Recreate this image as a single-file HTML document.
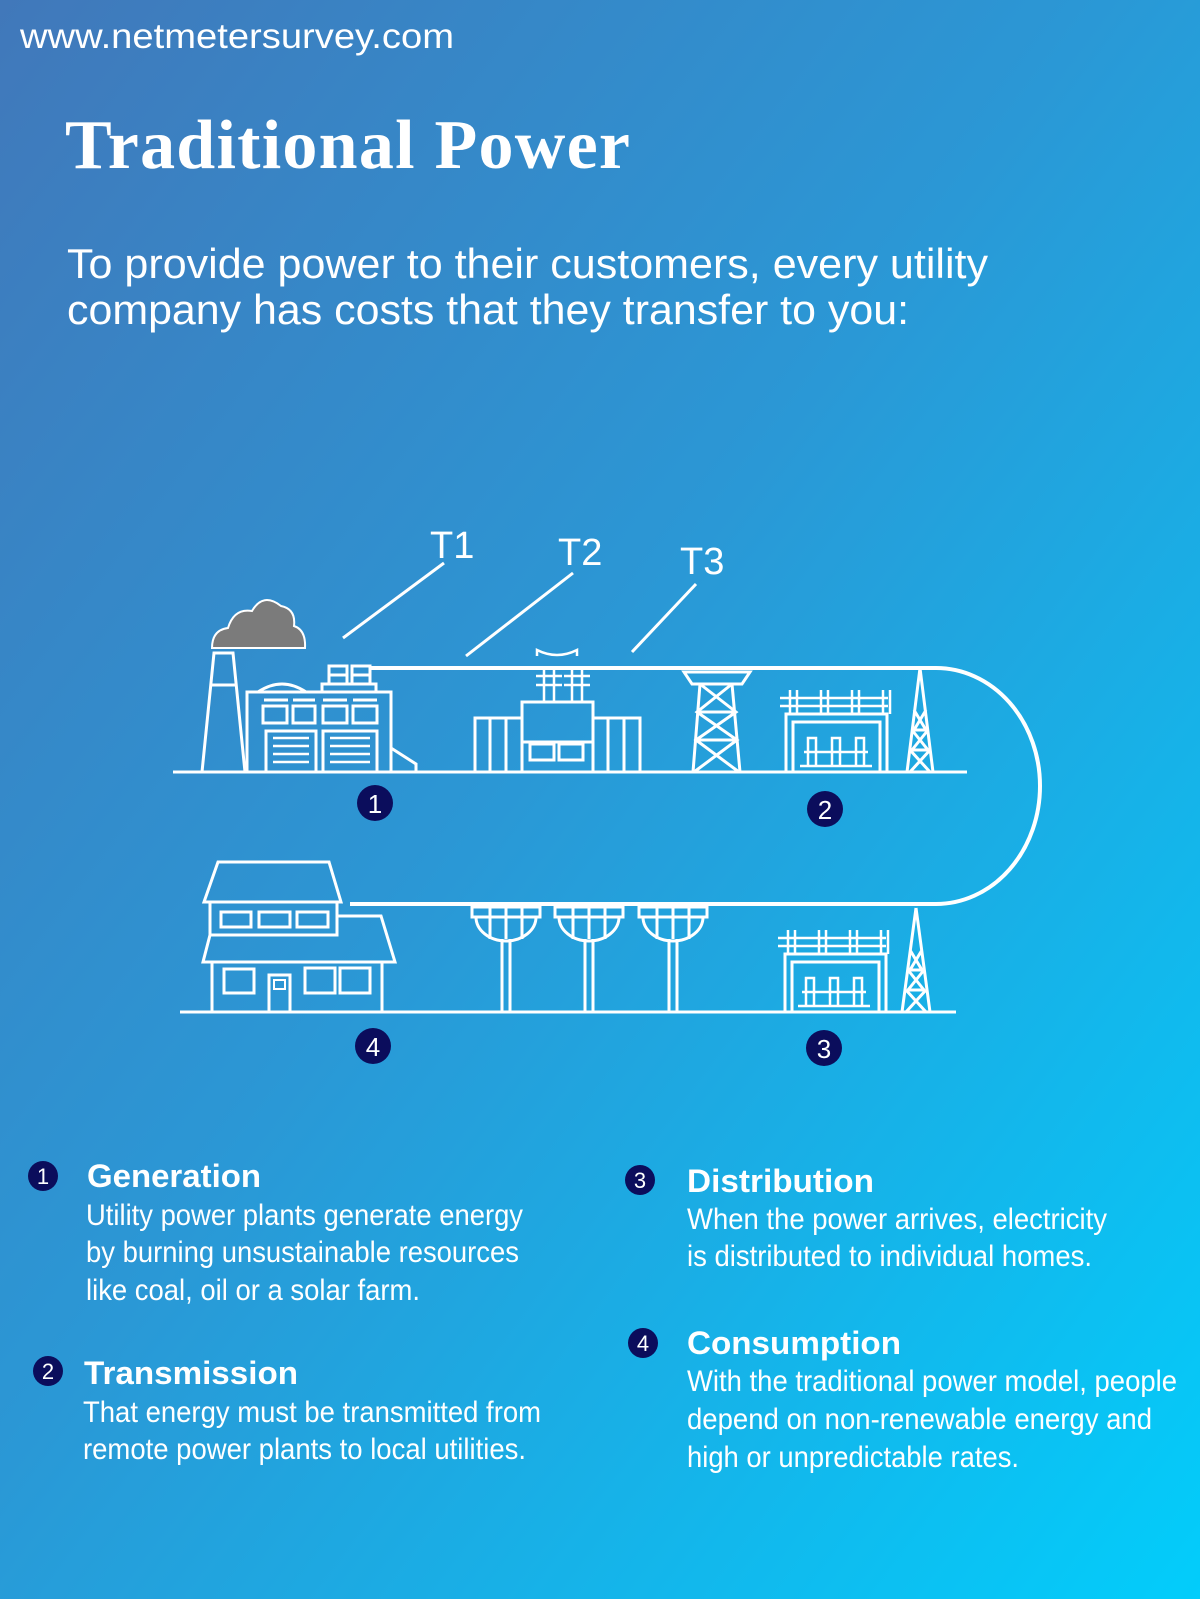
<!DOCTYPE html>
<html><head><meta charset="utf-8"><style>
html,body{margin:0;padding:0;width:1200px;height:1599px;overflow:hidden}
svg{display:block}
text{font-family:"Liberation Sans",Arial,sans-serif;fill:#fff}
</style></head><body>
<svg width="1200" height="1599" viewBox="0 0 1200 1599" xmlns="http://www.w3.org/2000/svg">
<defs>
<linearGradient id="bg" x1="0" y1="0" x2="1" y2="1">
<stop offset="0" stop-color="#4178ba"/>
<stop offset="0.45" stop-color="#2b97d5"/>
<stop offset="1" stop-color="#02cdfb"/>
</linearGradient>
</defs>
<rect width="1200" height="1599" fill="url(#bg)"/>

<text x="20" y="48" font-size="35" textLength="434" lengthAdjust="spacingAndGlyphs">www.netmetersurvey.com</text>
<text x="65" y="168" font-size="70" font-weight="bold" style="font-family:'Liberation Serif',serif" textLength="565">Traditional Power</text>
<text x="67" y="278" font-size="42" textLength="921" lengthAdjust="spacingAndGlyphs">To provide power to their customers, every utility</text>
<text x="67" y="324" font-size="42" textLength="842" lengthAdjust="spacingAndGlyphs">company has costs that they transfer to you:</text>

<g stroke="#fff" stroke-width="3" fill="none">
<line x1="444" y1="563" x2="343" y2="638"/>
<line x1="573" y1="573" x2="466" y2="656"/>
<line x1="696" y1="584" x2="632" y2="652"/>
<path d="M370 668 H936 A104 118 0 0 1 936 904 H350" stroke-width="4"/>
<line x1="173" y1="772" x2="967" y2="772"/>
<line x1="180" y1="1012" x2="956" y2="1012"/>

<path d="M202 772 L214 653 L233 653 L245 772"/>
<line x1="210" y1="685" x2="237" y2="685"/>
<rect x="247" y="692" width="144" height="80"/>
<path d="M258 692 Q282 676 306 692"/>
<rect x="322" y="684" width="54" height="8"/>
<rect x="329" y="666" width="18" height="18"/>
<rect x="352" y="666" width="18" height="18"/>
<line x1="329" y1="675" x2="347" y2="675"/><line x1="352" y1="675" x2="370" y2="675"/>
<line x1="264" y1="700" x2="288" y2="700"/><line x1="293" y1="700" x2="315" y2="700"/><line x1="323" y1="700" x2="347" y2="700"/><line x1="353" y1="700" x2="377" y2="700"/>
<rect x="263" y="706" width="24" height="17"/><rect x="293" y="706" width="22" height="17"/><rect x="323" y="706" width="24" height="17"/><rect x="353" y="706" width="24" height="17"/>
<rect x="266" y="731" width="50" height="41"/><rect x="323" y="731" width="54" height="41"/>
<path d="M273 738h36M273 746h36M273 754h36M273 762h36M330 738h40M330 746h40M330 754h40M330 762h40" stroke-width="2.5"/>
<path d="M391 748 L416 764 L416 772"/>

<rect x="475" y="718" width="47" height="54"/>
<line x1="490" y1="718" x2="490" y2="772"/><line x1="506" y1="718" x2="506" y2="772"/>
<rect x="522" y="702" width="71" height="70"/>
<line x1="522" y1="742" x2="593" y2="742"/>
<rect x="530" y="744" width="24" height="16"/><rect x="559" y="744" width="24" height="16"/>
<rect x="593" y="718" width="47" height="54"/>
<line x1="608" y1="718" x2="608" y2="772"/><line x1="624" y1="718" x2="624" y2="772"/>
<path d="M536 676h26M536 685h26M544 669v33M554 669v33M564 676h26M564 685h26M572 669v33M582 669v33" stroke-width="2.5"/>
<path d="M537 656v-6q20 10 40 0v6" stroke-width="2.5"/>

<path d="M684 672 H750 L742 684 H692 Z"/>
<path d="M700 684 L693 772 M732 684 L740 772"/>
<path d="M700 684 L736 712 L696 740 L739 772 M732 684 L697 712 L737 740 L694 772 M698 712 H735 M696 740 H737"/>
<rect x="786" y="714" width="101" height="58"/>
<rect x="793" y="722" width="87" height="50"/>
<path d="M780 698h108M780 706h108M790 690v24M797 690v24M821 690v24M828 690v24M852 690v24M859 690v24M883 690v24M890 690v24" stroke-width="2.5"/>
<path d="M808 766v-28h8v28M832 766v-28h8v28M856 766v-28h8v28M804 752h64M800 766h72" stroke-width="2.5"/>
<path d="M920 668 L907 772 M920 668 L933 772 M912 730 L928 750 M928 730 L912 750 M910 750 L930 772 M930 750 L910 772 M914 710 L926 730 M926 710 L914 730 M913 730h14M911 750h18"/>

<path d="M218 862 H329 L341 902 H204 Z"/>
<rect x="210" y="902" width="127" height="33"/>
<rect x="221" y="912" width="30" height="15"/><rect x="259" y="912" width="31" height="15"/><rect x="297" y="912" width="31" height="15"/>
<path d="M210 935 H337 V916 H381 L395 962 H203 Z"/>
<rect x="212" y="962" width="170" height="50"/>
<rect x="224" y="969" width="30" height="24"/><rect x="305" y="968" width="30" height="25"/><rect x="340" y="968" width="30" height="25"/>
<rect x="269" y="975" width="21" height="37"/>
<rect x="274" y="980" width="11" height="9" stroke-width="2"/>

<g id="pole">
<rect x="472" y="907" width="68" height="10"/>
<path d="M476 917 A30 24 0 0 0 536 917"/>
<path d="M490 907 V939 M522 907 V939 M506 907 V939"/>
<path d="M502 939 V1012 M510 939 V1012"/>
</g>
<use href="#pole" x="83"/>
<use href="#pole" x="167"/>

<rect x="785" y="954" width="101" height="58"/>
<rect x="792" y="962" width="87" height="50"/>
<path d="M778 938h108M778 946h108M788 930v24M795 930v24M819 930v24M826 930v24M850 930v24M857 930v24M881 930v24M888 930v24" stroke-width="2.5"/>
<path d="M806 1006v-28h8v28M830 1006v-28h8v28M854 1006v-28h8v28M802 992h64M798 1006h72" stroke-width="2.5"/>
<path d="M916 908 L902 1012 M916 908 L930 1012 M908 970 L924 990 M924 970 L908 990 M906 990 L926 1012 M926 990 L906 1012 M910 950 L922 970 M922 950 L910 970 M909 970h14M907 990h18"/>
</g>

<path d="M212 648 Q212 630 228 628 Q234 608 252 611 Q263 592 281 606 Q296 609 294 626 Q306 630 305 648 Z" fill="#7b7b7b" stroke="#fff" stroke-width="2"/>

<text x="430" y="558" font-size="38">T1</text>
<text x="558" y="565" font-size="38">T2</text>
<text x="680" y="574" font-size="38">T3</text>

<g font-size="26" text-anchor="middle">
<circle cx="375" cy="803" r="18" fill="#0b0d5c"/><text x="375" y="813">1</text>
<circle cx="825" cy="809" r="18" fill="#0b0d5c"/><text x="825" y="819">2</text>
<circle cx="373" cy="1046" r="18" fill="#0b0d5c"/><text x="373" y="1056">4</text>
<circle cx="824" cy="1048" r="18" fill="#0b0d5c"/><text x="824" y="1058">3</text>
</g>

<g font-size="22" text-anchor="middle">
<circle cx="43" cy="1176" r="15" fill="#0b0d5c"/><text x="43" y="1184">1</text>
<circle cx="48" cy="1371" r="15" fill="#0b0d5c"/><text x="48" y="1379">2</text>
<circle cx="640" cy="1180" r="15" fill="#0b0d5c"/><text x="640" y="1188">3</text>
<circle cx="643" cy="1343" r="15" fill="#0b0d5c"/><text x="643" y="1351">4</text>
</g>

<g font-size="32" font-weight="bold">
<text x="87" y="1187" textLength="174" lengthAdjust="spacingAndGlyphs">Generation</text>
<text x="84" y="1384" textLength="214" lengthAdjust="spacingAndGlyphs">Transmission</text>
<text x="687" y="1192" textLength="187" lengthAdjust="spacingAndGlyphs">Distribution</text>
<text x="687" y="1354" textLength="214" lengthAdjust="spacingAndGlyphs">Consumption</text>
</g>
<g font-size="30">
<text x="86" y="1225" textLength="437" lengthAdjust="spacingAndGlyphs">Utility power plants generate energy</text>
<text x="86" y="1262" textLength="433" lengthAdjust="spacingAndGlyphs">by burning unsustainable resources</text>
<text x="86" y="1300" textLength="334" lengthAdjust="spacingAndGlyphs">like coal, oil or a solar farm.</text>
<text x="83" y="1422" textLength="458" lengthAdjust="spacingAndGlyphs">That energy must be transmitted from</text>
<text x="83" y="1459" textLength="443" lengthAdjust="spacingAndGlyphs">remote power plants to local utilities.</text>
<text x="687" y="1229" textLength="420" lengthAdjust="spacingAndGlyphs">When the power arrives, electricity</text>
<text x="687" y="1266" textLength="405" lengthAdjust="spacingAndGlyphs">is distributed to individual homes.</text>
<text x="687" y="1391" textLength="490" lengthAdjust="spacingAndGlyphs">With the traditional power model, people</text>
<text x="687" y="1429" textLength="465" lengthAdjust="spacingAndGlyphs">depend on non-renewable energy and</text>
<text x="687" y="1467" textLength="332" lengthAdjust="spacingAndGlyphs">high or unpredictable rates.</text>
</g>
</svg>
</body></html>
